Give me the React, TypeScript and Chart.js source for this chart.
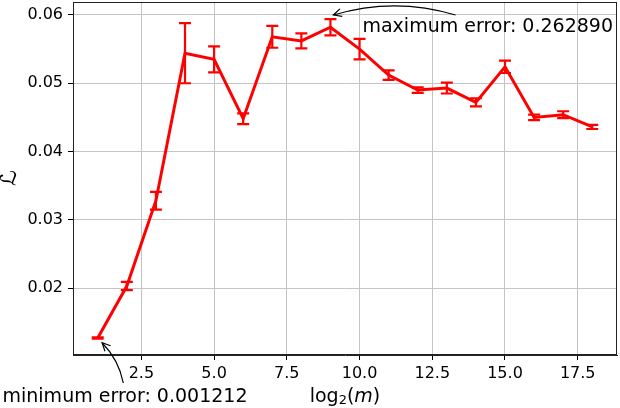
import React, { useEffect, useRef } from "react";
import { Chart, registerables } from "chart.js";

Chart.register(...registerables);

const xValues = [1, 2, 3, 4, 5, 6, 7, 8, 9, 10, 11, 12, 13, 14, 15, 16, 17, 18];
const meanValues = [
  0.0127, 0.0203, 0.0328, 0.0544, 0.0535, 0.0448, 0.0568, 0.0562, 0.0582,
  0.055, 0.0512, 0.049, 0.0493, 0.0472, 0.0524, 0.045, 0.0454, 0.0436,
];
const errValues = [
  0.0001, 0.0006, 0.0013, 0.0044, 0.0019, 0.0008, 0.0016, 0.0011, 0.0012,
  0.0015, 0.0007, 0.0004, 0.0008, 0.0006, 0.0009, 0.0004, 0.0005, 0.0003,
];
const xTickValues = [2.5, 5, 7.5, 10, 12.5, 15, 17.5];
const yTickValues = [0.02, 0.03, 0.04, 0.05, 0.06];
const maxErrorLabel = "maximum error: 0.262890";
const minErrorLabel = "minimum error: 0.001212";

const FONT = "'DejaVu Sans', sans-serif";

function drawArrow(ctx: CanvasRenderingContext2D, sx: number, sy: number, ex: number, ey: number, rad: number) {
  const dx = ex - sx;
  const dy = ey - sy;
  const cx = (sx + ex) / 2 - dy * rad;
  const cy = (sy + ey) / 2 + dx * rad;
  ctx.beginPath();
  ctx.moveTo(sx, sy);
  ctx.quadraticCurveTo(cx, cy, ex, ey);
  ctx.stroke();
  const ang = Math.atan2(ey - cy, ex - cx);
  const hl = 9;
  const hw = 0.45;
  ctx.beginPath();
  ctx.moveTo(ex - hl * Math.cos(ang - hw), ey - hl * Math.sin(ang - hw));
  ctx.lineTo(ex, ey);
  ctx.lineTo(ex - hl * Math.cos(ang + hw), ey - hl * Math.sin(ang + hw));
  ctx.stroke();
}

const decorPlugin = {
  id: "decor",
  afterDatasetsDraw(chart: any) {
    const { ctx, scales } = chart;
    const x = scales.x;
    const y = scales.y;
    ctx.save();
    ctx.strokeStyle = "#ff0000";
    ctx.lineWidth = 2.2;
    xValues.forEach((xv, i) => {
      const px = x.getPixelForValue(xv);
      const top = y.getPixelForValue(meanValues[i] + errValues[i]);
      const bot = y.getPixelForValue(meanValues[i] - errValues[i]);
      ctx.beginPath();
      ctx.moveTo(px, top);
      ctx.lineTo(px, bot);
      ctx.moveTo(px - 6, top);
      ctx.lineTo(px + 6, top);
      ctx.moveTo(px - 6, bot);
      ctx.lineTo(px + 6, bot);
      ctx.stroke();
    });
    ctx.restore();
  },
  afterDraw(chart: any) {
    const { ctx, scales, chartArea } = chart;
    const x = scales.x;
    const y = scales.y;
    ctx.save();
    // frame
    ctx.strokeStyle = "#222";
    ctx.lineWidth = 1;
    ctx.strokeRect(
      Math.round(chartArea.left) + 0.5,
      Math.round(chartArea.top) + 0.5,
      Math.round(chartArea.right - chartArea.left) - 1,
      Math.round(chartArea.bottom - chartArea.top) - 1
    );

    // annotations
    ctx.fillStyle = "#000";
    ctx.strokeStyle = "#000";
    ctx.lineWidth = 1.2;
    ctx.font = `19px ${FONT}`;
    ctx.textBaseline = "middle";

    // maximum
    ctx.textAlign = "left";
    ctx.fillText(maxErrorLabel, x.getPixelForValue(10.1), y.getPixelForValue(0.0582));
    drawArrow(
      ctx,
      x.getPixelForValue(13.3),
      y.getPixelForValue(0.06),
      x.getPixelForValue(9.1),
      y.getPixelForValue(0.06),
      0.15
    );

    // minimum
    ctx.textAlign = "center";
    ctx.fillText(minErrorLabel, 125, 397);
    drawArrow(
      ctx,
      x.getPixelForValue(1.88),
      y.getPixelForValue(0.0061),
      x.getPixelForValue(1.15),
      y.getPixelForValue(0.012),
      0.15
    );

    // x label: log_2(m)
    const cxl = (chartArea.left + chartArea.right) / 2;
    const parts: [string, string, number][] = [
      ["log", `19px ${FONT}`, 0],
      ["2", `13px ${FONT}`, 4],
      ["(", `19px ${FONT}`, 0],
      ["m", `italic 19px ${FONT}`, 0],
      [")", `19px ${FONT}`, 0],
    ];
    let total = 0;
    parts.forEach(([t, f]) => {
      ctx.font = f;
      total += ctx.measureText(t).width;
    });
    let px = cxl - total / 2;
    ctx.textAlign = "left";
    parts.forEach(([t, f, dy]) => {
      ctx.font = f;
      ctx.fillText(t, px, 397 + dy);
      px += ctx.measureText(t).width;
    });

    // y label
    ctx.translate(10, 178);
    ctx.rotate(-Math.PI / 2);
    ctx.textAlign = "center";
    ctx.font = `22px ${FONT}`;
    ctx.fillText("ℒ", 0, 0);
    ctx.restore();
  },
};

export default function App() {
  const canvasRef = useRef<HTMLCanvasElement | null>(null);

  useEffect(() => {
    document.body.style.margin = "0";
    const canvas = canvasRef.current;
    if (!canvas) return;
    const tickFont = { family: FONT, size: 16 };
    const chart = new Chart(canvas, {
      type: "line",
      data: {
        datasets: [
          {
            data: xValues.map((xv, i) => ({ x: xv, y: meanValues[i] })),
            borderColor: "#ff0000",
            backgroundColor: "#ff0000",
            borderWidth: 3,
            pointRadius: 0,
            tension: 0,
            fill: false,
          },
        ],
      },
      options: {
        responsive: false,
        animation: false,
        devicePixelRatio: 1,
        layout: { padding: { top: 2, right: 3, left: 0, bottom: 0 } },
        plugins: {
          legend: { display: false },
          tooltip: { enabled: false },
          title: { display: false },
        },
        scales: {
          x: {
            type: "linear",
            min: 0.15,
            max: 18.85,
            afterBuildTicks: (s: any) => {
              s.ticks = xTickValues.map((v) => ({ value: v }));
            },
            afterFit: (s: any) => {
              s.height = 53;
              s.paddingLeft = 0;
              s.paddingRight = 0;
              s.paddingTop = 0;
              s.paddingBottom = 0;
            },
            grid: { color: "#c4c4c4", lineWidth: 1, tickColor: "#000", tickLength: 5 },
            border: { color: "#222", width: 1 },
            ticks: {
              color: "#000",
              font: tickFont,
              padding: 4,
              maxRotation: 0,
              autoSkip: false,
              callback: (v: any) => Number(v).toFixed(1),
            },
          },
          y: {
            type: "linear",
            min: 0.0102,
            max: 0.0619,
            afterBuildTicks: (s: any) => {
              s.ticks = yTickValues.map((v) => ({ value: v }));
            },
            afterFit: (s: any) => {
              s.width = 73;
              s.paddingLeft = 0;
              s.paddingRight = 0;
              s.paddingTop = 0;
              s.paddingBottom = 0;
            },
            grid: { color: "#c4c4c4", lineWidth: 1, tickColor: "#000", tickLength: 5 },
            border: { color: "#222", width: 1 },
            ticks: {
              color: "#000",
              font: tickFont,
              padding: 5,
              autoSkip: false,
              callback: (v: any) => Number(v).toFixed(2),
            },
          },
        },
      },
      plugins: [decorPlugin],
    });
    return () => chart.destroy();
  }, []);

  return (
    <div style={{ width: 620, height: 408 }}>
      <canvas ref={canvasRef} width={620} height={408} style={{ display: "block" }} />
    </div>
  );
}
